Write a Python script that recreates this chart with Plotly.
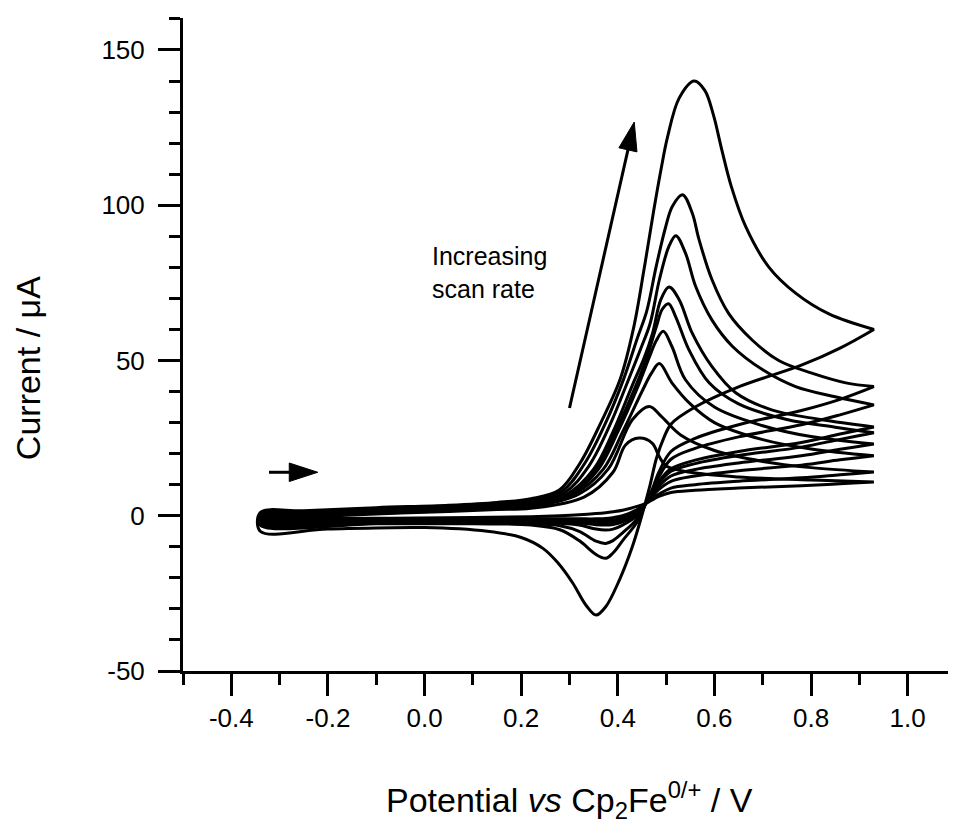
import plotly.graph_objects as go

# ---------------- data ----------------
# forward scans (potential / V, current / uA)
F1_X = [-0.34, -0.25, -0.1, 0.05, 0.15, 0.22, 0.279, 0.322, 0.365, 0.405, 0.432, 0.455, 0.474, 0.49, 0.503, 0.527, 0.558, 0.58, 0.598, 0.615, 0.635, 0.665, 0.713, 0.768, 0.837, 0.93]
F1_Y = [1.0, 1.6, 2.6, 3.4, 4.3, 5.5, 8.3, 17, 30, 44, 60, 80, 98, 112, 122, 134.5, 140, 137, 129, 118, 106, 93, 80, 71.7, 65, 60]
F2_X = [-0.34, -0.25, -0.1, 0.05, 0.15, 0.22, 0.285, 0.332, 0.375, 0.412, 0.44, 0.46, 0.479, 0.499, 0.513, 0.534, 0.554, 0.568, 0.595, 0.63, 0.678, 0.733, 0.8, 0.872, 0.93]
F2_Y = [0.6, 1.2, 2.2, 3.0, 3.9, 5.0, 8, 17, 30, 44, 57, 66, 80, 93, 99.7, 103.4, 97.5, 89, 76, 65, 56.6, 50, 46, 42.8, 41.6]
F3_X = [-0.34, -0.25, -0.1, 0.05, 0.15, 0.22, 0.29, 0.34, 0.383, 0.42, 0.448, 0.467, 0.486, 0.506, 0.52, 0.54, 0.561, 0.595, 0.637, 0.70, 0.768, 0.85, 0.93]
F3_Y = [0.3, 0.9, 1.9, 2.7, 3.6, 4.6, 7.5, 16, 29, 43, 54, 62, 76, 86.8, 90.2, 84.6, 73.9, 63, 54.6, 47, 41.6, 38.3, 35.7]
F4_X = [-0.34, -0.25, -0.1, 0.05, 0.15, 0.22, 0.295, 0.35, 0.39, 0.43, 0.455, 0.472, 0.489, 0.506, 0.527, 0.554, 0.595, 0.644, 0.72, 0.82, 0.93]
F4_Y = [0.0, 0.6, 1.6, 2.4, 3.3, 4.2, 7, 15, 27, 42, 51, 58.8, 69.6, 73.7, 69.6, 58.8, 48, 39.6, 34, 31, 28.6]
F5_X = [-0.34, -0.25, -0.1, 0.05, 0.15, 0.22, 0.3, 0.355, 0.395, 0.435, 0.46, 0.48, 0.492, 0.505, 0.52, 0.547, 0.589, 0.65, 0.75, 0.85, 0.93]
F5_Y = [-0.2, 0.4, 1.4, 2.2, 3.0, 3.9, 7, 15, 27, 41, 51, 61, 66.5, 68.3, 64, 53.5, 42.8, 36, 31, 28.5, 26.7]
F6_X = [-0.34, -0.25, -0.1, 0.05, 0.15, 0.22, 0.305, 0.36, 0.40, 0.44, 0.465, 0.48, 0.494, 0.512, 0.54, 0.6, 0.7, 0.8, 0.93]
F6_Y = [-0.4, 0.2, 1.2, 2.0, 2.8, 3.6, 7, 15, 27, 41, 51, 56.5, 59.4, 54.5, 43.8, 35, 29, 25.5, 23.1]
F7_X = [-0.34, -0.25, -0.1, 0.05, 0.15, 0.22, 0.31, 0.37, 0.41, 0.45, 0.47, 0.486, 0.512, 0.55, 0.6, 0.7, 0.8, 0.93]
F7_Y = [-0.6, 0.0, 1.0, 1.8, 2.6, 3.2, 7, 15, 27, 40, 46, 49, 42.8, 36, 30, 24.5, 21.5, 19.3]
F8_X = [-0.34, -0.25, -0.1, 0.05, 0.15, 0.22, 0.32, 0.38, 0.43, 0.465, 0.49, 0.53, 0.6, 0.7, 0.8, 0.93]
F8_Y = [-0.8, -0.2, 0.8, 1.6, 2.3, 2.8, 7, 15, 30.9, 35.2, 32, 26, 21, 17.5, 15.5, 14.1]
F9_X = [-0.34, -0.25, -0.1, 0.05, 0.15, 0.22, 0.33, 0.39, 0.416, 0.444, 0.471, 0.486, 0.5, 0.55, 0.65, 0.8, 0.93]
F9_Y = [-1.0, -0.4, 0.6, 1.4, 2.0, 2.4, 6, 14, 22.8, 25, 23.4, 19, 16, 14, 12.5, 11.5, 10.9]

# reverse scans
R1_X = [0.93, 0.86, 0.78, 0.65, 0.56, 0.51, 0.495, 0.48, 0.467, 0.455, 0.43, 0.403, 0.375, 0.355, 0.335, 0.306, 0.275, 0.245, 0.2, 0.13, 0.0, -0.2, -0.34]
R1_Y = [60, 54, 48.5, 41.5, 35, 29.5, 25, 18.5, 10, 3, -10, -20.8, -29.3, -32, -29, -21.5, -15, -10.5, -7.0, -5.0, -3.8, -4.3, -5.0]
R_X = [0.93, 0.86, 0.78, 0.65, 0.56, 0.51, 0.485, 0.47, 0.458, 0.44, 0.41, 0.39, 0.375, 0.355, 0.32, 0.28, 0.22, 0.1, -0.1, -0.34]
R2_Y = [41.6, 37.5, 33.9, 29.3, 24.9, 20.7, 14, 8, 4, -2, -8, -12, -13.7, -12.5, -8, -4.5, -3.0, -2.6, -2.6, -3.0]
R3_Y = [35.7, 32.5, 29.3, 25.4, 21.7, 18.2, 12.5, 7.5, 4, -1, -5.5, -8, -8.9, -8.2, -5, -3.2, -2.6, -2.4, -2.4, -2.7]
R4_Y = [28.6, 26.3, 23.6, 20.7, 17.9, 15.1, 11, 7, 4, 0, -3, -4.3, -4.6, -4.3, -3, -2.4, -2.2, -2.1, -2.1, -2.4]
R5_Y = [26.7, 24.6, 22.1, 19.4, 16.8, 14.3, 10.5, 7, 4, 0.5, -2, -2.8, -3, -2.9, -2.3, -2.0, -1.9, -1.8, -1.8, -2.1]
R6_Y = [23.1, 21.4, 19.3, 17, 14.9, 12.8, 9.5, 6.5, 4, 1, -1.5, -2.1, -2.3, -2.2, -1.9, -1.7, -1.6, -1.6, -1.6, -1.8]
R7_Y = [19.3, 18, 16.3, 14.5, 12.8, 11.1, 8.5, 6, 4, 1.5, -0.8, -1.4, -1.6, -1.6, -1.4, -1.3, -1.3, -1.3, -1.3, -1.5]
R8_Y = [14.1, 13.2, 12.2, 11.1, 10, 8.9, 7, 5.5, 4, 2, 0, -0.6, -0.9, -1.0, -1.0, -1.0, -1.0, -1.0, -1.0, -1.2]
R9_Y = [10.9, 10.3, 9.7, 8.9, 8.2, 7.5, 6.2, 5, 4, 3, 1.8, 1.3, 1.0, 0.7, 0.3, 0.0, -0.3, -0.6, -0.8, -1.0]

X_TICKS = [-0.4, -0.2, 0.0, 0.2, 0.4, 0.6, 0.8, 1.0]
X_TICK_TEXT = ["-0.4", "-0.2", "0.0", "0.2", "0.4", "0.6", "0.8", "1.0"]
Y_TICKS = [-50, 0, 50, 100, 150]
Y_TICK_TEXT = ["-50", "0", "50", "100", "150"]

# annotation arrows (data coordinates)
ARROW_SCAN_X = [0.30, 0.434]
ARROW_SCAN_Y = [34.7, 126.8]
ARROW_DIR_X = [-0.322, -0.221]
ARROW_DIR_Y = [14.0, 14.0]

# ---------------- figure ----------------
FONT = "Arial, Liberation Sans, sans-serif"
curves = [
    (F1_X, F1_Y, R1_X, R1_Y),
    (F2_X, F2_Y, R_X, R2_Y),
    (F3_X, F3_Y, R_X, R3_Y),
    (F4_X, F4_Y, R_X, R4_Y),
    (F5_X, F5_Y, R_X, R5_Y),
    (F6_X, F6_Y, R_X, R6_Y),
    (F7_X, F7_Y, R_X, R7_Y),
    (F8_X, F8_Y, R_X, R8_Y),
    (F9_X, F9_Y, R_X, R9_Y),
]

fig = go.Figure()
for fx, fy, rx, ry in curves:
    xs = list(fx) + list(rx) + [fx[0]]
    ys = list(fy) + list(ry) + [fy[0]]
    fig.add_trace(go.Scatter(
        x=xs, y=ys, mode="lines",
        line=dict(color="black", width=3, shape="spline", smoothing=1.0),
        showlegend=False, hoverinfo="skip"))

for ax_, ay_ in [(ARROW_SCAN_X, ARROW_SCAN_Y), (ARROW_DIR_X, ARROW_DIR_Y)]:
    fig.add_trace(go.Scatter(
        x=ax_, y=ay_, mode="lines+markers",
        line=dict(color="black", width=3),
        marker=dict(symbol="arrow", size=[0, 30], color="black", opacity=1,
                    angleref="previous", line=dict(width=1, color="black")),
        opacity=1, showlegend=False, hoverinfo="skip"))

axis_common = dict(
    showline=True, linecolor="black", linewidth=3,
    ticks="outside", ticklen=22, tickwidth=3, tickcolor="black",
    showgrid=False, zeroline=False, mirror=False,
    tickfont=dict(family=FONT, size=26, color="black"),
)
fig.update_xaxes(range=[-0.5, 1.1], tickmode="array", tickvals=X_TICKS, ticktext=X_TICK_TEXT,
                 ticklabelstandoff=0,
                 minor=dict(tickmode="linear", tick0=0, dtick=0.1, ticks="outside",
                            ticklen=11, tickwidth=3, tickcolor="black", showgrid=False),
                 **axis_common)
fig.update_yaxes(range=[-50, 160.3], tickmode="array", tickvals=Y_TICKS, ticktext=Y_TICK_TEXT,
                 ticklabelstandoff=8,
                 minor=dict(tickmode="linear", tick0=0, dtick=10, ticks="outside",
                            ticklen=11, tickwidth=3, tickcolor="black", showgrid=False),
                 **axis_common)

fig.add_annotation(x=0.0103, y=78.3, xref="x", yref="y", text="Increasing<br>scan rate",
                   showarrow=False, xanchor="left", yanchor="middle", align="left",
                   font=dict(family=FONT, size=25, color="black"))
fig.add_annotation(x=-0.2005, y=0.4638, xref="paper", yref="paper", text="Current / μA",
                   showarrow=False, textangle=-90, xanchor="center", yanchor="middle",
                   font=dict(family=FONT, size=34, color="black"))
fig.add_annotation(x=0.5006, y=-0.198, xref="paper", yref="paper",
                   text="Potential <i>vs</i> Cp<sub>2</sub>Fe<sup>0/+</sup> / V",
                   showarrow=False, xanchor="center", yanchor="middle",
                   font=dict(family=FONT, size=34, color="black"))

# the page body adds an 8 px offset, so the figure is 8 px smaller than the window
fig.update_layout(
    width=948, height=828,
    margin=dict(l=175, r=0, t=10, b=165, pad=0),
    paper_bgcolor="white", plot_bgcolor="white",
    showlegend=False,
)

fig.write_html("out.html")
